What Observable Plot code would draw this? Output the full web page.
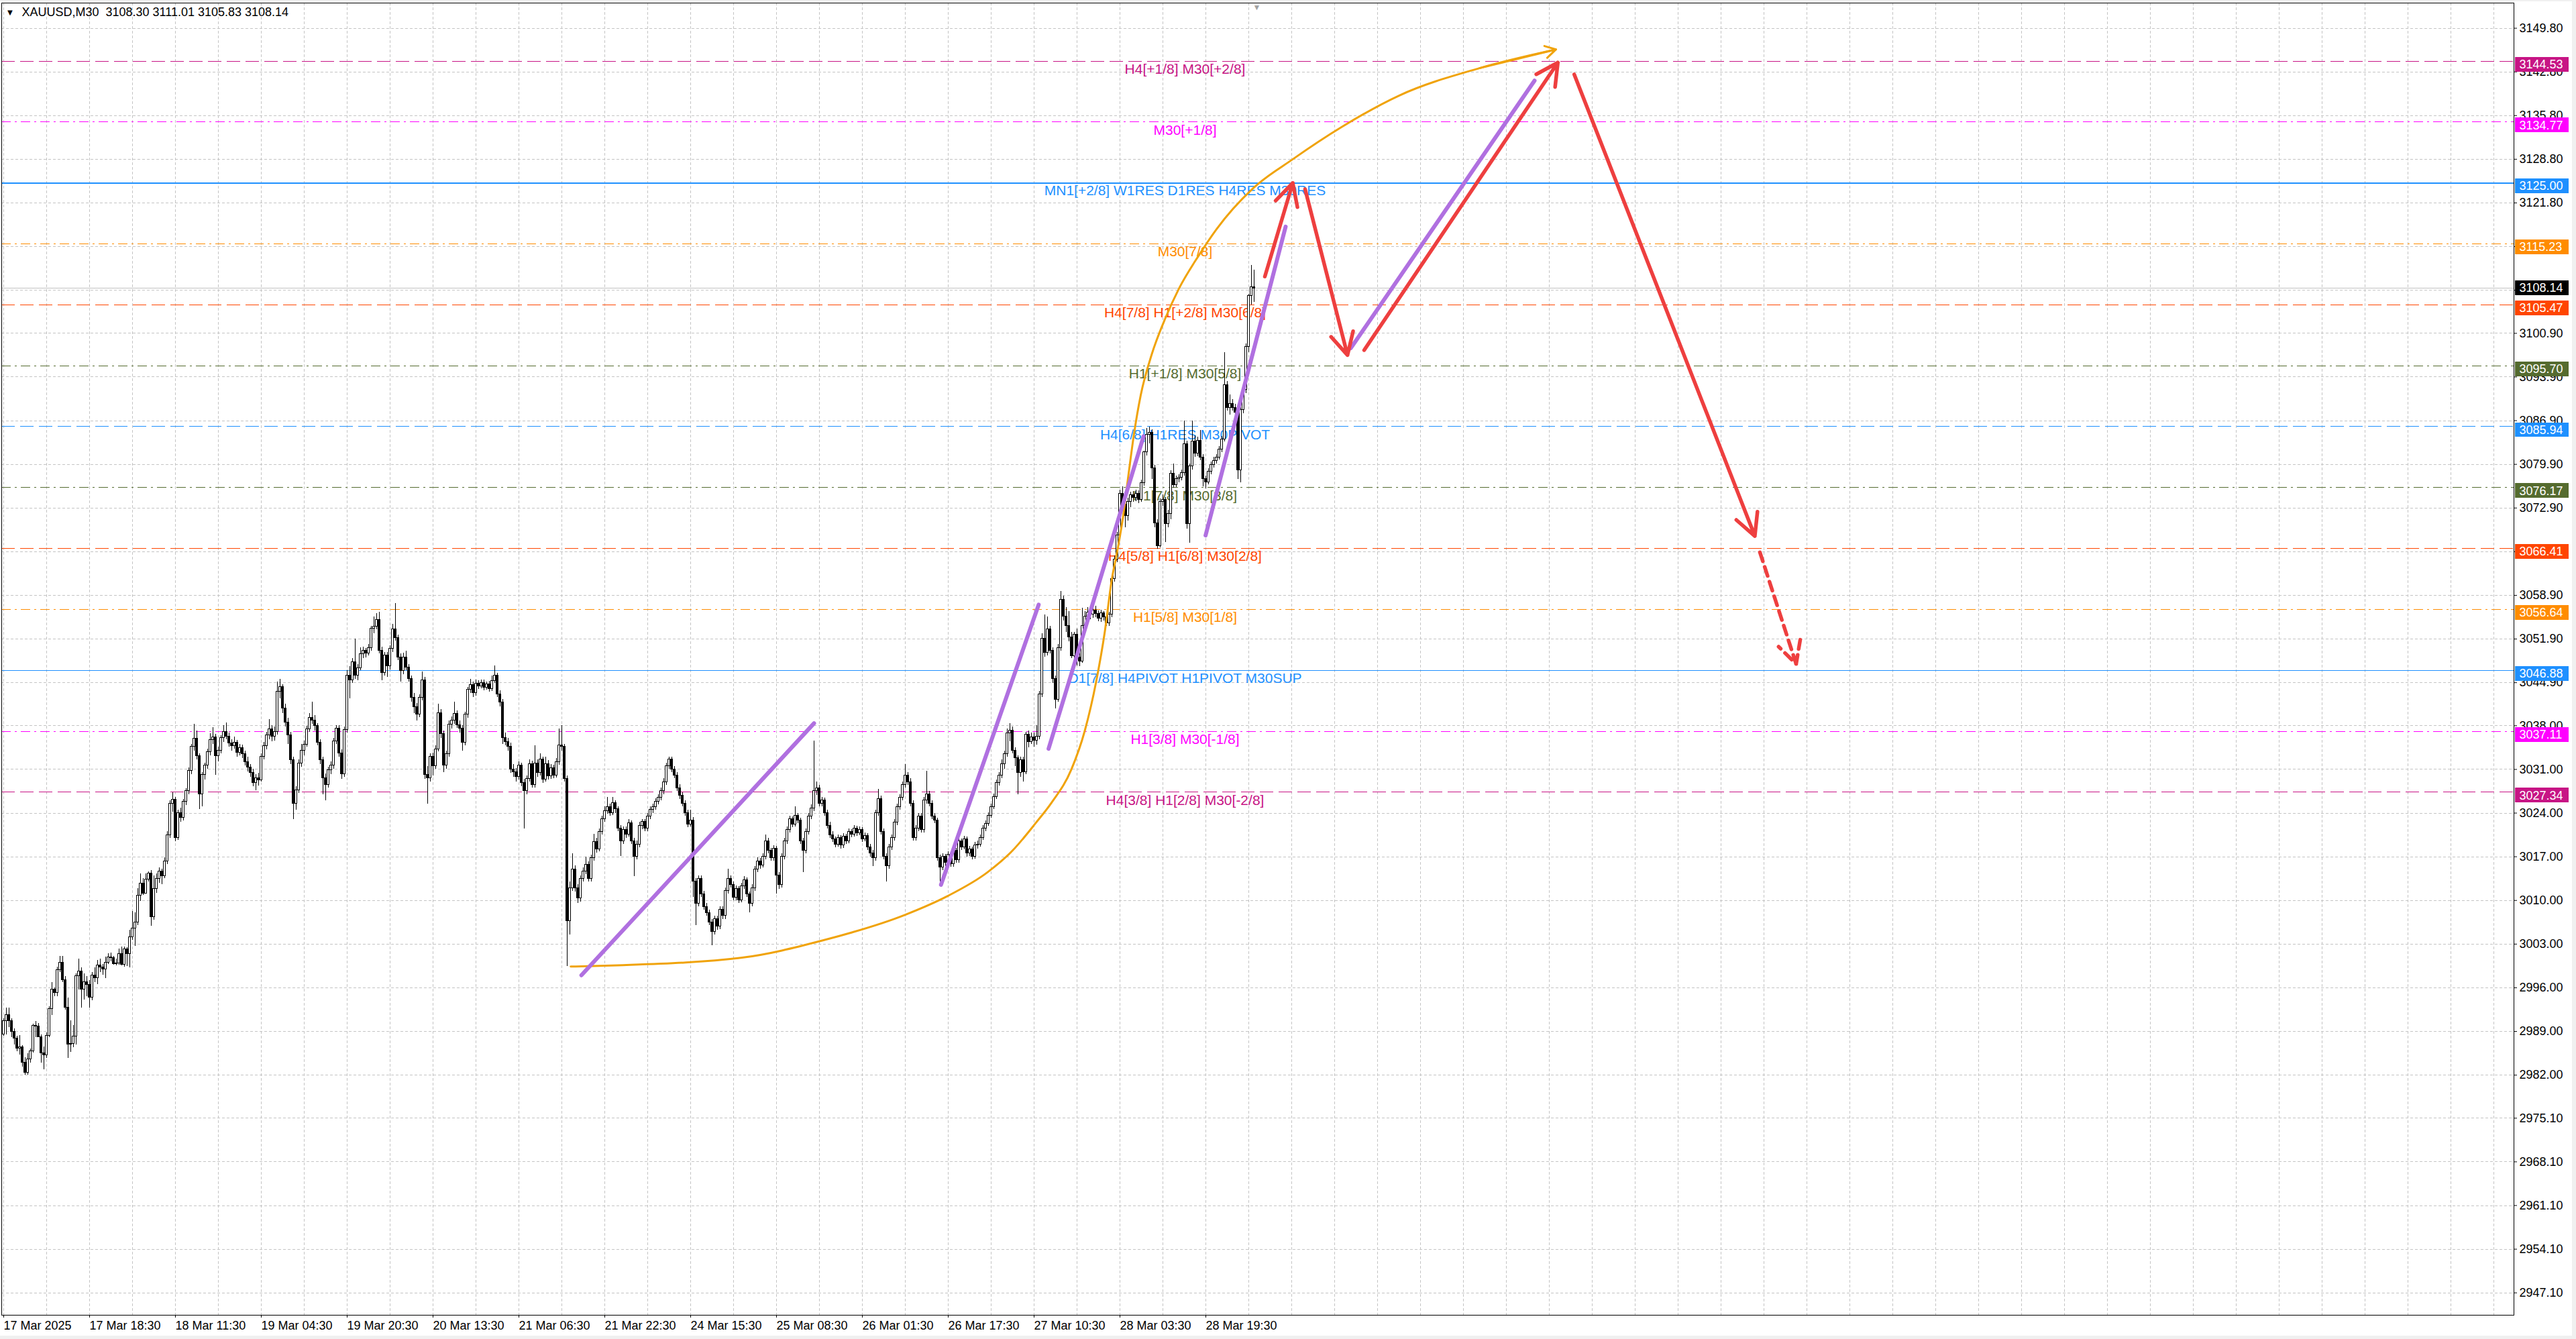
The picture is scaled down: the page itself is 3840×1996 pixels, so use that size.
<!DOCTYPE html>
<html><head><meta charset="utf-8">
<script src="https://cdn.jsdelivr.net/npm/d3@7"></script>
<script src="https://cdn.jsdelivr.net/npm/@observablehq/plot@0.6"></script>
<style>
html,body{margin:0;padding:0;background:#f0f0f0;}
#wrap{position:relative;width:3840px;height:1996px;overflow:hidden;}
#bg{position:absolute;left:0;top:2px;width:3834px;height:1989px;background:#fff;}
#chart{position:absolute;left:0;top:0;}
</style></head><body>
<div id="wrap"><div id="bg"></div><div id="chart"></div></div>
<script>
// ---------- DATA ----------
const symbolName = "XAUUSD,M30";
const opens = [
2988.5,2990.7,2991.6,2990.7,2988.9,2987.9,2986.3,2986.5,2984.0,2982.4,
2984.5,2985.8,2989.9,2989.8,2988.1,2985.5,2985.2,2988.3,2992.6,2995.7,
2995.2,2998.8,3000.0,2997.2,2992.8,2986.9,2987.0,2988.2,2997.9,2998.6,
2995.7,2996.9,2996.5,2994.4,2998.0,2997.5,2999.6,2999.3,2998.9,3000.0,
3000.9,3000.8,2999.8,2999.9,3001.4,2999.7,3002.2,3001.4,3004.1,3005.5,
3006.5,3010.8,3012.7,3011.1,3013.4,3014.3,3007.3,3011.8,
3013.5,3014.6,3013.9,3016.3,3020.5,3025.5,3026.2,3020.0,3024.0,3023.3,
3025.8,3027.5,3030.8,3034.7,3035.9,3033.1,3027.0,3030.1,3031.6,3033.8,
3035.7,3036.2,3033.1,3034.0,3036.0,3037.0,3036.3,3035.2,3034.8,3035.3,
3033.7,3034.4,3033.5,3032.2,3031.3,3030.5,3028.8,3029.6,3029.3,3033.0,
3034.8,3036.5,3037.4,3036.3,3037.0,3043.5,3044.2,3040.8,3038.5,3036.5,
3032.5,3025.5,3027.7,3032.0,3034.0,3035.0,3037.4,3039.3,3038.8,3038.0,
3035.3,3032.5,3029.6,3028.5,3030.9,3031.6,3035.5,3037.5,3033.6,3030.2,
3037.3,3046.0,3045.3,3048.2,3046.0,3047.2,3049.5,3050.0,3049.6,3050.5,
3053.6,3053.9,3055.0,3050.0,3046.5,3049.3,3047.5,3050.3,3053.5,3052.1,
3049.0,3046.8,3049.0,3047.3,3045.5,3042.5,3041.0,3039.8,3042.5,3045.3,
3030.1,3029.6,3033.0,3031.5,3034.2,3040.0,3036.7,3031.6,3033.5,3038.2,
3038.8,3039.9,3038.1,3037.6,3035.3,3039.8,3043.8,3044.5,3043.2,3044.8,
3044.3,3044.9,3044.1,3044.6,3043.9,3045.2,3046.0,3043.0,3041.7,3036.0,
3035.4,3034.7,3031.0,3030.6,3029.8,3031.6,3028.8,3027.6,3029.5,3031.8,
3028.5,3032.0,3030.5,3032.6,3029.4,3031.8,3029.9,3031.2,3030.0,3032.2,
3034.9,3034.6,3029.5,3006.7,3012.0,3015.0,3012.0,3010.3,3013.5,3014.7,
3015.7,3013.5,3016.8,3019.4,3018.2,3021.0,3023.0,3024.3,3025.0,3024.0,
3025.6,3024.6,3021.5,3019.5,3021.3,3020.6,3022.4,3019.5,3017.0,3019.0,
3022.0,3022.6,3021.5,3023.5,3024.5,3025.0,3025.8,3026.5,3027.5,3029.0,
3031.5,3032.6,3031.0,3030.0,3028.0,3026.8,3025.5,3024.0,3022.2,3022.8,
3013.0,3009.5,3013.5,3011.0,3009.0,3008.0,3006.5,3005.0,3007.0,3005.8,
3008.5,3007.5,3011.5,3013.5,3012.5,3010.5,3011.8,3010.0,3012.3,3013.2,
3011.0,3009.5,3012.0,3015.0,3016.3,3015.6,3017.0,3019.5,3018.0,3016.8,
3018.3,3014.0,3012.5,3017.0,3019.5,3021.3,3023.0,3022.2,3023.6,3022.8,
3019.5,3018.0,3021.0,3023.5,3024.8,3027.5,3028.0,3025.5,3026.0,3024.0,
3022.0,3020.5,3019.8,3019.0,3020.0,3018.8,3020.2,3019.5,3021.0,3020.6,
3021.5,3020.8,3021.3,3019.8,3020.3,3018.5,3017.5,3016.8,3024.0,3026.3,
3021.0,3017.0,3015.5,3018.5,3020.0,3022.5,3025.0,3026.5,3028.5,3030.0,
3029.0,3025.5,3020.0,3021.5,3023.5,3021.3,3026.0,3027.0,3025.5,3023.5,
3022.8,3016.8,3015.3,3017.0,3016.0,3017.3,3015.8,3018.0,3016.5,3019.5,
3018.5,3019.8,3017.5,3018.2,3017.0,3018.8,3019.0,3020.0,3021.5,3022.3,
3023.6,3025.0,3026.6,3028.8,3030.0,3031.8,3033.5,3036.8,3037.2,3034.0,
3032.8,3030.5,3032.5,3030.6,3036.6,3035.4,3036.2,3035.6,3036.3,3043.0,
3052.0,3049.7,3053.5,3050.0,3045.5,3042.2,3050.5,3058.2,3055.5,3054.0,
3052.2,3049.2,3052.6,3049.0,3048.3,3054.0,3055.5,3056.2,3055.8,3056.5,
3055.9,3055.2,3056.0,3055.4,3054.4,3055.8,3061.5,3064.6,3068.5,3075.2,
3073.5,3071.6,3073.9,3075.0,3074.5,3075.2,3074.2,3076.9,3081.8,3084.7,
3085.0,3079.3,3070.5,3066.8,3073.9,3074.2,3070.3,3072.0,3078.4,3076.6,
3077.5,3077.8,3078.5,3083.1,3070.3,3079.6,3083.6,3081.6,3083.7,3081.0,
3077.5,3077.0,3078.7,3079.8,3080.5,3081.0,3082.3,3083.9,3092.6,3089.0,
3089.6,3089.0,3088.2,3078.9,3088.6,3091.8,3098.7,3106.9,3108.30
];
const highs = [
2991.0,2992.8,2992.8,2991.0,2989.4,2988.3,2988.4,2986.7,2984.8,2985.5,
2986.2,2990.2,2990.6,2990.3,2988.5,2986.5,2988.8,2993.0,2996.8,2996.0,
2999.3,3001.0,3001.0,2997.8,2994.4,2990.7,2990.0,2998.2,3000.6,2999.2,
2998.2,2997.8,2997.2,2998.5,2999.2,3000.4,3000.6,2999.8,3000.9,3001.5,
3001.6,3001.0,3000.6,3002.2,3002.6,3002.6,3002.4,3005.2,3008.3,3008.0,
3011.9,3014.3,3013.5,3014.3,3014.6,3014.8,3014.0,3014.3,
3015.2,3015.0,3016.8,3021.0,3026.0,3027.3,3026.5,3024.5,3024.8,3026.2,
3027.9,3031.3,3035.0,3038.3,3037.2,3033.5,3030.5,3032.0,3034.3,3036.7,
3037.7,3036.6,3034.6,3036.4,3038.0,3038.5,3036.8,3035.8,3036.2,3035.7,
3035.0,3034.9,3034.0,3033.0,3031.8,3031.0,3030.2,3030.4,3033.5,3035.3,
3037.0,3039.0,3038.0,3037.8,3045.0,3045.5,3044.6,3041.5,3039.2,3037.0,
3033.0,3028.2,3032.5,3035.0,3035.6,3037.9,3040.0,3041.8,3039.6,3038.4,
3035.8,3033.0,3030.3,3031.4,3032.2,3036.0,3038.0,3038.0,3034.2,3037.8,
3046.8,3047.5,3048.8,3051.9,3047.8,3050.5,3050.6,3050.4,3051.0,3054.0,
3055.5,3056.0,3056.2,3050.6,3049.8,3049.8,3050.8,3054.3,3057.6,3052.6,
3049.5,3049.6,3050.0,3047.8,3046.0,3043.2,3041.6,3043.0,3046.6,3045.8,
3031.5,3033.5,3033.6,3034.8,3041.5,3040.6,3037.2,3034.0,3038.8,3039.4,
3041.8,3040.4,3038.8,3038.0,3040.2,3044.2,3045.5,3045.0,3045.3,3045.2,
3045.4,3045.3,3045.0,3045.1,3046.0,3047.6,3046.4,3043.6,3042.2,3036.8,
3036.0,3035.2,3031.8,3031.2,3032.2,3032.0,3029.4,3030.0,3032.5,3032.3,
3034.8,3032.6,3033.5,3033.0,3033.0,3032.4,3031.8,3031.7,3032.8,3037.5,
3038.0,3035.0,3030.0,3013.0,3017.5,3015.6,3012.5,3014.0,3015.2,3017.0,
3016.2,3017.3,3020.6,3020.0,3021.5,3023.5,3025.0,3026.5,3025.5,3026.5,
3026.0,3025.0,3022.0,3021.8,3021.8,3023.0,3022.8,3020.0,3019.5,3022.5,
3023.0,3023.0,3024.0,3025.0,3025.5,3026.3,3027.0,3028.0,3029.5,3032.0,
3033.0,3033.0,3031.5,3030.5,3028.6,3027.3,3026.0,3024.5,3024.5,3023.3,
3013.5,3014.0,3014.0,3011.5,3009.5,3008.5,3007.0,3007.5,3007.5,3009.0,
3009.0,3012.0,3015.0,3014.0,3013.0,3012.3,3012.2,3012.8,3013.8,3013.6,
3011.4,3012.5,3015.5,3016.8,3016.7,3017.5,3020.5,3020.0,3018.4,3018.8,
3018.7,3014.5,3017.5,3020.0,3021.8,3023.5,3023.4,3025.0,3024.0,3023.2,
3020.0,3021.5,3024.0,3025.3,3035.6,3029.0,3028.5,3026.5,3026.4,3024.5,
3022.5,3021.0,3020.2,3020.5,3020.4,3020.7,3020.6,3021.5,3021.4,3022.0,
3021.9,3021.8,3021.7,3020.8,3020.7,3019.0,3018.0,3024.5,3027.8,3026.7,
3021.5,3017.5,3019.0,3020.5,3023.0,3025.5,3027.0,3029.0,3031.8,3030.5,
3029.5,3026.0,3022.0,3024.0,3024.0,3026.5,3030.7,3027.5,3026.0,3024.0,
3023.2,3017.3,3017.5,3017.4,3017.8,3017.7,3018.5,3018.4,3020.0,3019.9,
3020.3,3020.2,3018.7,3018.6,3019.3,3019.5,3020.5,3022.0,3022.8,3024.1,
3025.5,3027.1,3029.3,3030.5,3032.5,3034.0,3037.5,3038.4,3037.8,3034.5,
3033.2,3033.0,3033.0,3037.0,3037.2,3036.8,3036.9,3038.0,3043.5,3052.8,
3055.8,3055.5,3054.0,3050.5,3046.0,3051.0,3059.5,3058.8,3057.0,3056.3,
3053.0,3053.0,3053.5,3050.2,3056.8,3056.3,3057.0,3056.8,3057.0,3057.2,
3056.4,3056.5,3056.3,3055.8,3056.2,3062.0,3065.2,3069.0,3075.8,3076.3,
3074.4,3074.5,3075.5,3075.6,3075.8,3075.7,3077.4,3082.0,3085.7,3085.9,
3085.4,3079.8,3071.0,3074.4,3075.0,3074.6,3072.6,3078.9,3080.0,3078.0,
3078.3,3079.0,3086.8,3083.6,3080.0,3086.8,3084.5,3084.3,3085.3,3081.5,
3078.0,3079.2,3080.3,3081.0,3081.5,3082.8,3084.4,3097.8,3093.2,3091.0,
3090.3,3089.5,3088.6,3089.0,3092.3,3099.2,3107.2,3111.8,3111.01
];
const lows = [
2988.2,2988.5,2989.6,2988.0,2986.8,2985.8,2985.2,2983.3,2982.0,2982.0,
2983.9,2985.6,2988.0,2988.0,2983.9,2982.9,2984.7,2988.0,2991.6,2994.6,
2994.6,2998.5,2996.9,2992.4,2984.7,2985.7,2986.4,2986.9,2995.7,2992.8,
2994.1,2994.6,2992.8,2993.9,2996.9,2996.5,2998.5,2998.0,2997.5,2999.8,
3000.2,2999.6,2999.5,2999.6,2999.5,2999.3,2999.4,2999.2,3003.6,3002.7,
3006.0,3009.9,3010.8,3011.0,3013.0,3005.9,3006.9,3011.2,
3012.8,3012.5,3013.5,3015.8,3020.0,3024.2,3019.4,3019.6,3022.5,3022.8,
3025.2,3027.0,3030.2,3034.0,3032.6,3024.6,3025.0,3029.3,3031.0,3033.2,
3035.0,3030.1,3032.2,3033.5,3035.4,3035.8,3034.6,3034.0,3034.3,3033.0,
3033.2,3032.8,3031.6,3030.6,3029.8,3028.2,3027.6,3028.4,3029.0,3032.5,
3034.2,3035.8,3035.5,3035.6,3036.5,3042.3,3040.0,3037.8,3035.0,3031.8,
3023.0,3024.5,3027.2,3031.4,3033.2,3034.6,3037.0,3038.2,3037.2,3034.8,
3031.8,3027.0,3026.0,3028.0,3030.2,3031.0,3035.0,3033.0,3029.4,3029.8,
3036.8,3042.3,3044.8,3045.5,3045.2,3046.8,3048.8,3048.9,3049.2,3050.0,
3052.8,3053.4,3049.5,3045.2,3046.0,3045.8,3047.0,3049.8,3051.6,3048.5,
3045.0,3046.2,3046.8,3045.0,3041.8,3040.0,3038.8,3039.3,3042.0,3029.4,
3025.5,3029.0,3030.0,3031.0,3033.8,3036.0,3030.5,3031.0,3033.0,3037.5,
3038.2,3037.6,3036.9,3034.0,3034.8,3039.2,3043.2,3042.6,3042.8,3043.8,
3043.9,3043.6,3043.7,3043.4,3043.5,3044.8,3042.5,3041.0,3035.0,3034.8,
3034.0,3030.4,3029.8,3029.0,3029.3,3028.2,3021.5,3027.0,3029.0,3028.0,
3028.0,3029.8,3030.0,3028.8,3029.0,3029.3,3029.4,3029.5,3029.6,3031.7,
3034.0,3029.0,2999.4,3004.5,3011.5,3011.4,3009.5,3009.8,3013.0,3014.2,
3013.0,3013.0,3016.3,3017.6,3017.8,3020.5,3022.5,3023.8,3023.5,3023.6,
3024.0,3021.0,3017.1,3019.0,3020.0,3020.2,3019.0,3013.8,3016.5,3018.5,
3021.4,3021.0,3021.0,3023.0,3024.0,3024.5,3025.3,3026.0,3027.0,3028.5,
3031.0,3030.5,3029.5,3027.5,3026.2,3025.0,3023.5,3021.7,3021.8,3010.5,
3006.0,3009.0,3010.5,3008.5,3007.5,3006.0,3002.8,3004.5,3005.2,3005.3,
3007.0,3007.0,3011.0,3012.0,3010.0,3010.0,3009.5,3009.6,3011.8,3010.5,
3008.0,3009.0,3011.5,3014.5,3015.0,3015.2,3016.5,3017.5,3016.3,3016.3,
3011.0,3011.8,3012.0,3016.5,3019.0,3020.8,3021.7,3021.8,3022.3,3019.0,
3014.5,3017.5,3020.5,3023.0,3024.3,3026.8,3025.0,3025.0,3023.5,3021.5,
3020.0,3019.3,3018.5,3018.6,3018.3,3018.4,3019.0,3019.1,3020.1,3020.2,
3020.3,3020.4,3019.3,3019.4,3018.0,3017.0,3015.5,3016.3,3023.5,3020.5,
3016.5,3013.0,3015.0,3018.0,3019.5,3022.0,3024.5,3026.0,3028.0,3028.5,
3025.0,3019.5,3019.5,3021.0,3020.8,3020.8,3025.5,3025.0,3023.0,3022.3,
3016.3,3013.0,3014.8,3015.5,3015.6,3015.3,3015.4,3016.0,3016.0,3018.0,
3018.1,3017.0,3017.1,3016.5,3016.6,3018.3,3018.6,3019.6,3021.0,3021.9,
3023.2,3024.6,3026.2,3028.4,3029.5,3031.0,3033.0,3035.5,3033.5,3031.5,
3027.0,3029.8,3029.0,3030.2,3034.5,3035.0,3034.6,3034.9,3035.8,3042.5,
3049.0,3049.2,3049.5,3044.8,3040.7,3041.8,3050.0,3054.8,3053.0,3051.5,
3048.8,3048.5,3047.6,3047.5,3048.0,3053.2,3054.8,3055.0,3055.2,3055.3,
3054.7,3054.6,3054.8,3053.9,3054.0,3055.4,3061.0,3064.2,3068.0,3072.5,
3069.8,3070.8,3073.0,3073.8,3074.0,3073.6,3073.8,3076.4,3081.3,3083.2,
3077.5,3069.8,3066.3,3066.5,3073.2,3067.4,3069.8,3071.0,3076.1,3076.2,
3077.0,3077.3,3078.0,3069.5,3067.3,3079.0,3081.0,3081.2,3080.5,3076.3,
3076.0,3076.6,3078.2,3079.3,3080.0,3080.6,3081.8,3083.5,3088.5,3087.8,
3088.5,3087.7,3077.5,3077.0,3088.0,3091.3,3097.8,3105.5,3105.83
];
const closes = [
2990.7,2991.6,2990.7,2988.9,2987.9,2986.3,2986.5,2984.0,2982.4,2984.5,
2985.8,2989.9,2989.8,2988.1,2985.5,2985.2,2988.3,2992.6,2995.7,2995.2,
2998.8,3000.0,2997.2,2992.8,2986.9,2987.0,2988.2,2997.9,2998.6,2995.7,
2996.9,2996.5,2994.4,2998.0,2997.5,2999.6,2999.3,2998.9,3000.0,3000.9,
3000.8,2999.8,2999.9,3001.4,2999.7,3002.2,3001.4,3004.1,3005.5,3006.5,
3010.8,3012.7,3011.1,3013.4,3014.3,3007.3,3011.8,3013.5,
3014.6,3013.9,3016.3,3020.5,3025.5,3026.2,3020.0,3024.0,3023.3,3025.8,
3027.5,3030.8,3034.7,3035.9,3033.1,3027.0,3030.1,3031.6,3033.8,3035.7,
3036.2,3033.1,3034.0,3036.0,3037.0,3036.3,3035.2,3034.8,3035.3,3033.7,
3034.4,3033.5,3032.2,3031.3,3030.5,3028.8,3029.6,3029.3,3033.0,3034.8,
3036.5,3037.4,3036.3,3037.0,3043.5,3044.2,3040.8,3038.5,3036.5,3032.5,
3025.5,3027.7,3032.0,3034.0,3035.0,3037.4,3039.3,3038.8,3038.0,3035.3,
3032.5,3029.6,3028.5,3030.9,3031.6,3035.5,3037.5,3033.6,3030.2,3037.3,
3046.0,3045.3,3048.2,3046.0,3047.2,3049.5,3050.0,3049.6,3050.5,3053.6,
3053.9,3055.0,3050.0,3046.5,3049.3,3047.5,3050.3,3053.5,3052.1,3049.0,
3046.8,3049.0,3047.3,3045.5,3042.5,3041.0,3039.8,3042.5,3045.3,3030.1,
3029.6,3033.0,3031.5,3034.2,3040.0,3036.7,3031.6,3033.5,3038.2,3038.8,
3039.9,3038.1,3037.6,3035.3,3039.8,3043.8,3044.5,3043.2,3044.8,3044.3,
3044.9,3044.1,3044.6,3043.9,3045.2,3046.0,3043.0,3041.7,3036.0,3035.4,
3034.7,3031.0,3030.6,3029.8,3031.6,3028.8,3027.6,3029.5,3031.8,3028.5,
3032.0,3030.5,3032.6,3029.4,3031.8,3029.9,3031.2,3030.0,3032.2,3034.9,
3034.6,3029.5,3006.7,3012.0,3015.0,3012.0,3010.3,3013.5,3014.7,3015.7,
3013.5,3016.8,3019.4,3018.2,3021.0,3023.0,3024.3,3025.0,3024.0,3025.6,
3024.6,3021.5,3019.5,3021.3,3020.6,3022.4,3019.5,3017.0,3019.0,3022.0,
3022.6,3021.5,3023.5,3024.5,3025.0,3025.8,3026.5,3027.5,3029.0,3031.5,
3032.6,3031.0,3030.0,3028.0,3026.8,3025.5,3024.0,3022.2,3022.8,3013.0,
3009.5,3013.5,3011.0,3009.0,3008.0,3006.5,3005.0,3007.0,3005.8,3008.5,
3007.5,3011.5,3013.5,3012.5,3010.5,3011.8,3010.0,3012.3,3013.2,3011.0,
3009.5,3012.0,3015.0,3016.3,3015.6,3017.0,3019.5,3018.0,3016.8,3018.3,
3014.0,3012.5,3017.0,3019.5,3021.3,3023.0,3022.2,3023.6,3022.8,3019.5,
3018.0,3021.0,3023.5,3024.8,3027.5,3028.0,3025.5,3026.0,3024.0,3022.0,
3020.5,3019.8,3019.0,3020.0,3018.8,3020.2,3019.5,3021.0,3020.6,3021.5,
3020.8,3021.3,3019.8,3020.3,3018.5,3017.5,3016.8,3024.0,3026.3,3021.0,
3017.0,3015.5,3018.5,3020.0,3022.5,3025.0,3026.5,3028.5,3030.0,3029.0,
3025.5,3020.0,3021.5,3023.5,3021.3,3026.0,3027.0,3025.5,3023.5,3022.8,
3016.8,3015.3,3017.0,3016.0,3017.3,3015.8,3018.0,3016.5,3019.5,3018.5,
3019.8,3017.5,3018.2,3017.0,3018.8,3019.0,3020.0,3021.5,3022.3,3023.6,
3025.0,3026.6,3028.8,3030.0,3031.8,3033.5,3036.8,3037.2,3034.0,3032.8,
3030.5,3032.5,3030.6,3036.6,3035.4,3036.2,3035.6,3036.3,3043.0,3052.0,
3049.7,3053.5,3050.0,3045.5,3042.2,3050.5,3058.2,3055.5,3054.0,3052.2,
3049.2,3052.6,3049.0,3048.3,3054.0,3055.5,3056.2,3055.8,3056.5,3055.9,
3055.2,3056.0,3055.4,3054.4,3055.8,3061.5,3064.6,3068.5,3075.2,3073.5,
3071.6,3073.9,3075.0,3074.5,3075.2,3074.2,3076.9,3081.8,3084.7,3085.0,
3079.3,3070.5,3066.8,3073.9,3074.2,3070.3,3072.0,3078.4,3076.6,3077.5,
3077.8,3078.5,3083.1,3070.3,3079.6,3083.6,3081.6,3083.7,3081.0,3077.5,
3077.0,3078.7,3079.8,3080.5,3081.0,3082.3,3083.9,3092.6,3089.0,3089.6,
3089.0,3088.2,3078.9,3088.6,3091.8,3098.7,3106.9,3108.3,3108.14
];

// price levels (Murrey-style labels)
const levelPrices = [3144.53,3134.77,3125.00,3115.23,3105.47,3095.70,3085.94,3076.17,3066.41,3056.64,3046.88,3037.11,3027.34];
const levelLabels = [
  "H4[+1/8] M30[+2/8]","M30[+1/8]","MN1[+2/8] W1RES D1RES H4RES M30RES","M30[7/8]",
  "H4[7/8] H1[+2/8] M30[6/8]","H1[+1/8] M30[5/8]","H4[6/8] H1RES M30PIVOT","H1[7/8] M30[3/8]",
  "H4[5/8] H1[6/8] M30[2/8]","H1[5/8] M30[1/8]","D1[7/8] H4PIVOT H1PIVOT M30SUP","H1[3/8] M30[-1/8]",
  "H4[3/8] H1[2/8] M30[-2/8]"
];

// axes
const yTicks = [3149.8,3142.8,3135.8,3128.8,3121.8,3114.8,3107.8,3100.9,3093.9,3086.9,3079.9,3072.9,3065.9,3058.9,3051.9,3044.9,3038.0,3031.0,3024.0,3017.0,3010.0,3003.0,2996.0,2989.0,2982.0,2975.1,2968.1,2961.1,2954.1,2947.1];
const yTicksHidden = [3114.8,3107.8,3065.9];
const xTickBars = [0,32,64,96,128,160,192,224,256,288,320,352,384,416,448];
const xTickLabels = ["17 Mar 2025","17 Mar 18:30","18 Mar 11:30","19 Mar 04:30","19 Mar 20:30","20 Mar 13:30","21 Mar 06:30","21 Mar 22:30","24 Mar 15:30","25 Mar 08:30","26 Mar 01:30","26 Mar 17:30","27 Mar 10:30","28 Mar 03:30","28 Mar 19:30"];

// hand drawings: [bar, price]
const orangeCurve = [[211.3,2999.4],[228.75,2999.6],[274.7,3000.8],[305.3,3003.6],[336,3007.7],[351.3,3010.6],[366.6,3014.5],[376,3018.0],[384.6,3022.4],[390.4,3025.6],[397.9,3031.0],[402.9,3037.2],[407.1,3045.0],[410.4,3053.2],[412.9,3061.3],[415,3066.0],[417.1,3071.3],[419.2,3078.3],[421.25,3084.8],[423.75,3091.0],[427.9,3097.6],[432.9,3103.3],[437.9,3108.0],[445.4,3113.4],[452,3117.6],[465.5,3124.1],[480.4,3128.8],[498.75,3134.0],[520,3139.0],[550,3143.4],[578.5,3146.4]];
const purpleSegs = [[215.3,2998.0,302,3038.4],[349.3,3012.5,385.7,3057.4],[389.4,3034.3,424.8,3084.4],[447.9,3068.5,477.75,3118.0],[502,3098.5,570.5,3141.4]];
const redArrows = [[470,3110.0,480.4,3125.0],[485,3124.0,500.8,3097.4],[507,3098.2,579.2,3144.3],[585.3,3142.4,652.6,3068.4]];
const redDashedArrows = [[654.5,3065.8,668,3047.9]];

// ---------- STYLES ----------
const VR="#c71585", MG="#ff00ff", DB="#1e90ff", DO="#ff8c00", OR="#ff4500", OL="#556b2f";
const DASH="20,8", DDOT="14,6,3,6";
const levelStyle = [
  {c:VR,d:DASH,w:1},{c:MG,d:DDOT,w:1},{c:DB,d:null,w:2},{c:DO,d:DDOT,w:1},
  {c:OR,d:DASH,w:1},{c:OL,d:DDOT,w:1},{c:DB,d:DASH,w:1},{c:OL,d:DDOT,w:1},
  {c:OR,d:DASH,w:1},{c:DO,d:DDOT,w:1},{c:DB,d:null,w:1},{c:MG,d:DDOT,w:1},
  {c:VR,d:DASH,w:1}
];
const UI = "'Liberation Sans', Arial, sans-serif";
const yTop = 3153.84, yBot = 2943.52;
const xLeft = -0.75, xRight = 935.5;
const labelBar = 440.25;
const boxX1 = 936, boxX2 = 956, boxTextX = 937.5, boxHalf = 1.18;
const RED = "#ee3f3f";

const candles = d3.range(closes.length).map(i => ({i, o: opens[i], h: highs[i], l: lows[i], c: closes[i]}));
const bulls = candles.filter(d => d.c >= d.o), bears = candles.filter(d => d.c < d.o);
const last = candles[candles.length - 1];
const levels = levelPrices.map((v, k) => ({v, label: levelLabels[k], ...levelStyle[k]}));

const levelMarks = levels.map(L => Plot.ruleY([L.v], {stroke: L.c, strokeWidth: L.w, strokeDasharray: L.d || undefined, shapeRendering: "crispEdges"}));
const levelTextMarks = levels.map(L => Plot.text([L], {x: () => labelBar, y: "v", text: "label", fill: L.c, dy: 12, fontSize: 21, fontFamily: UI}));
const boxMarks = [];
levels.forEach(L => {
  boxMarks.push(Plot.rect([L], {x1: () => boxX1, x2: () => boxX2, y1: d => d.v - boxHalf, y2: d => d.v + boxHalf, fill: L.c, dy: 5, shapeRendering: "crispEdges"}));
  boxMarks.push(Plot.text([L], {x: () => boxTextX, y: "v", text: d => d.v.toFixed(2), fill: "white", textAnchor: "start", fontSize: 18, fontFamily: UI, dy: 5}));
});
boxMarks.push(Plot.rect([last], {x1: () => boxX1, x2: () => boxX2, y1: d => d.c - boxHalf, y2: d => d.c + boxHalf, fill: "black", shapeRendering: "crispEdges"}));
boxMarks.push(Plot.text([last], {x: () => boxTextX, y: "c", text: d => d.c.toFixed(2), fill: "white", textAnchor: "start", fontSize: 18, fontFamily: UI}));

const header = `${symbolName}\u00a0\u00a0${last.o.toFixed(2)} ${last.h.toFixed(2)} ${last.l.toFixed(2)} ${last.c.toFixed(2)}`;

const chart = Plot.plot({
  width: 3840, height: 1996,
  marginLeft: 2, marginRight: 93, marginTop: 4, marginBottom: 36,
  style: {background: "transparent", fontFamily: UI, fontSize: "18px", overflow: "visible"},
  x: {domain: [xLeft, xRight]},
  y: {domain: [yBot, yTop]},
  marks: [
    Plot.ruleX(d3.range(0, 936, 16), {stroke: "#c4c4c4", strokeDasharray: "4,3", shapeRendering: "crispEdges"}),
    Plot.ruleY(yTicks, {stroke: "#c4c4c4", strokeDasharray: "4,3", shapeRendering: "crispEdges"}),
    ...levelMarks,
    Plot.ruleY([last.c], {stroke: "#c0c0c0", strokeWidth: 1, shapeRendering: "crispEdges"}),
    ...levelTextMarks,
    Plot.ruleX(candles, {x: "i", y1: "l", y2: "h", stroke: "black", strokeWidth: 1, shapeRendering: "crispEdges"}),
    Plot.rect(bulls, {x1: d => d.i - 0.32, x2: d => d.i + 0.32, y1: "o", y2: "c", fill: "white", stroke: "black", strokeWidth: 1, shapeRendering: "crispEdges"}),
    Plot.rect(bears, {x1: d => d.i - 0.32, x2: d => d.i + 0.32, y1: "o", y2: "c", fill: "black", stroke: "black", strokeWidth: 1, shapeRendering: "crispEdges"}),
    Plot.line(orangeCurve, {x: d => d[0], y: d => d[1], curve: "monotone-x", stroke: "#f0a30a", strokeWidth: 3}),
    Plot.arrow([orangeCurve.slice(-2)], {x1: d => d[0][0], y1: d => d[0][1], x2: d => d[1][0], y2: d => d[1][1], stroke: "#f0a30a", strokeWidth: 3, headLength: 9}),
    Plot.link(purpleSegs, {x1: d => d[0], y1: d => d[1], x2: d => d[2], y2: d => d[3], stroke: "#b070e0", strokeWidth: 6, strokeLinecap: "round"}),
    Plot.arrow(redArrows, {x1: d => d[0], y1: d => d[1], x2: d => d[2], y2: d => d[3], stroke: RED, strokeWidth: 5.5, headLength: 10, headAngle: 55}),
    Plot.arrow(redDashedArrows, {x1: d => d[0], y1: d => d[1], x2: d => d[2], y2: d => d[3], stroke: RED, strokeWidth: 5.5, headLength: 10, headAngle: 55, strokeDasharray: "14,9"}),
    Plot.frame({stroke: "black", strokeWidth: 1, shapeRendering: "crispEdges"}),
    Plot.axisY(yTicks, {anchor: "right", label: null, tickSize: 4, tickPadding: 4, fontSize: 18, tickFormat: d => yTicksHidden.includes(d) ? "" : d.toFixed(2)}),
    Plot.axisX(xTickBars, {anchor: "bottom", label: null, tickSize: 4, tickPadding: 5, fontSize: 18, textAnchor: "start", tickFormat: d => xTickLabels[xTickBars.indexOf(d)]}),
    ...boxMarks,
    Plot.text([header], {frameAnchor: "top-left", dx: 30, dy: 7, textAnchor: "start", lineAnchor: "top", fontSize: 18, fill: "black"}),
    Plot.text(["\u25BC"], {frameAnchor: "top-left", dx: 6, dy: 9, textAnchor: "start", lineAnchor: "top", fontSize: 13, fill: "black"}),
    Plot.text(["\u25BC"], {x: () => 467, frameAnchor: "top", dy: 2, lineAnchor: "top", fontSize: 12, fill: "#a0a0a0"})
  ]
});
document.getElementById("chart").appendChild(chart);
</script>
</body></html>
